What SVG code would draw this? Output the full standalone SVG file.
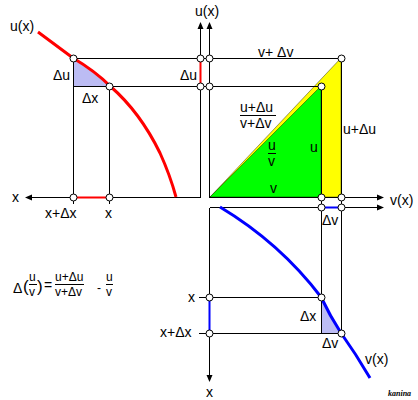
<svg xmlns="http://www.w3.org/2000/svg" width="418" height="400" viewBox="0 0 418 400">
<style>
text{font-family:"Liberation Sans",Arial,sans-serif;font-size:14px;fill:#000}
.f{font-size:12px}
.ln{stroke:#000;stroke-width:1;fill:none;shape-rendering:crispEdges}
.pt{fill:#fff;stroke:#000;stroke-width:1}
.ar{fill:#000;stroke:none}
.red{stroke:#f00;stroke-width:3;fill:none;stroke-linejoin:round}
.blue{stroke:#00f;stroke-width:3;fill:none;stroke-linejoin:round}
.tri{fill:#bcbcf4;stroke:none}
</style>
<rect width="418" height="400" fill="#fff"/>
<g id="areas">
<polygon points="210,197 341,58 341,197" fill="#ffff00" stroke="#000" stroke-width="0.4"/>
<polygon points="210,197 321,86 321,197" fill="#00ff00" stroke="#000" stroke-width="0.4"/>
<polygon class="tri" points="73,58 97,73 110,86 73,86"/>
<polygon class="tri" points="321,297 331,315 341,333 321,333"/>
</g>
<g id="connectors">
<path class="ln" d="M200.5,197.5H30M200.5,197.5V27M209.5,197.5V27M209.5,197.5H379M209.5,207.5H379M209.5,207.5V377"/>
<path class="ln" d="M73.5,58.5H341M73.5,86.5H321M73.5,58.5V204M109.5,86.5V204M321.5,86.5V333M341.5,58.5V333M199,297.5H321M199,333.5H341"/>
<polygon class="ar" points="25,197.5 32,194.5 32,200.5"/>
<polygon class="ar" points="200.5,22 197.5,29 203.5,29"/>
<polygon class="ar" points="209.5,22 206.5,29 212.5,29"/>
<polygon class="ar" points="384,197.5 377,194.5 377,200.5"/>
<polygon class="ar" points="384,207.5 377,204.5 377,210.5"/>
<polygon class="ar" points="209.5,382 206.5,375 212.5,375"/>
<path stroke="#f00" stroke-width="2" d="M73,197.5H109M200.5,58V86"/>
<path stroke="#00f" stroke-width="2" d="M321,207.5H341M209.5,297V333"/>
</g>
<g id="curve-u">
<path class="red" d="M38,32 L73,58 Q95,71 110,86 Q140,112 160,153 Q170,175 176,197"/>
</g>
<g id="curve-v">
<path class="blue" d="M220,207 Q280,243 321,297 Q330,316 341,333 Q356,354 370,378"/>
</g>
<g id="points">
<circle class="pt" cx="73.5" cy="58.5" r="3.5"/>
<circle class="pt" cx="109.5" cy="86.5" r="3.5"/>
<circle class="pt" cx="73.5" cy="197.5" r="3.5"/>
<circle class="pt" cx="109.5" cy="197.5" r="3.5"/>
<circle class="pt" cx="200.5" cy="58.5" r="3.5"/>
<circle class="pt" cx="209.5" cy="58.5" r="3.5"/>
<circle class="pt" cx="200.5" cy="86.5" r="3.5"/>
<circle class="pt" cx="209.5" cy="86.5" r="3.5"/>
<circle class="pt" cx="341.5" cy="58.5" r="3.5"/>
<circle class="pt" cx="321.5" cy="86.5" r="3.5"/>
<circle class="pt" cx="321.5" cy="197.5" r="3.5"/>
<circle class="pt" cx="341.5" cy="197.5" r="3.5"/>
<circle class="pt" cx="321.5" cy="207.5" r="3.5"/>
<circle class="pt" cx="341.5" cy="207.5" r="3.5"/>
<circle class="pt" cx="209.5" cy="297.5" r="3.5"/>
<circle class="pt" cx="321.5" cy="297.5" r="3.5"/>
<circle class="pt" cx="209.5" cy="333.5" r="3.5"/>
<circle class="pt" cx="341.5" cy="333.5" r="3.5"/>
</g>
<g id="labels">
<text x="10" y="31">u(x)</text>
<text x="195" y="16">u(x)</text>
<text x="53" y="80">Δu</text>
<text x="82" y="103">Δx</text>
<text x="180" y="80">Δu</text>
<text x="258" y="57">v+ Δv</text>
<text x="240" y="112">u+Δu</text>
<path class="ln" d="M240,115.5H276"/>
<text x="240" y="128">v+Δv</text>
<text x="268" y="150">u</text>
<path class="ln" d="M268,153.5H276"/>
<text x="268" y="166">v</text>
<text x="310" y="152">u</text>
<text x="343" y="134">u+Δu</text>
<text x="270" y="193">v</text>
<text x="390" y="205">v(x)</text>
<text x="12" y="202">x</text>
<text x="45" y="218">x+Δx</text>
<text x="105" y="218">x</text>
<text x="322" y="225">Δv</text>
<text x="188" y="302">x</text>
<text x="160" y="337">x+Δx</text>
<text x="206" y="397">x</text>
<text x="300" y="321">Δx</text>
<text x="322" y="348">Δv</text>
<text x="365" y="364">v(x)</text>
<text x="388" y="396" style="font-family:'Liberation Serif',serif;font-size:8px;font-style:italic;font-weight:bold">kanina</text>
</g>
<g id="formula">
<text x="13" y="293">Δ</text>
<text x="23" y="292" style="font-size:17px">(</text>
<text class="f" x="29" y="281">u</text>
<path class="ln" d="M29,284.5H37"/>
<text class="f" x="29" y="296">v</text>
<text x="37" y="292" style="font-size:17px">)</text>
<text x="44" y="290">=</text>
<text class="f" x="55" y="281">u+Δu</text>
<path class="ln" d="M55,284.5H84"/>
<text class="f" x="55" y="296">v+Δv</text>
<text class="f" x="97" y="292">-</text>
<text class="f" x="106" y="281">u</text>
<path class="ln" d="M106,284.5H113"/>
<text class="f" x="106" y="296">v</text>
</g>
</svg>
